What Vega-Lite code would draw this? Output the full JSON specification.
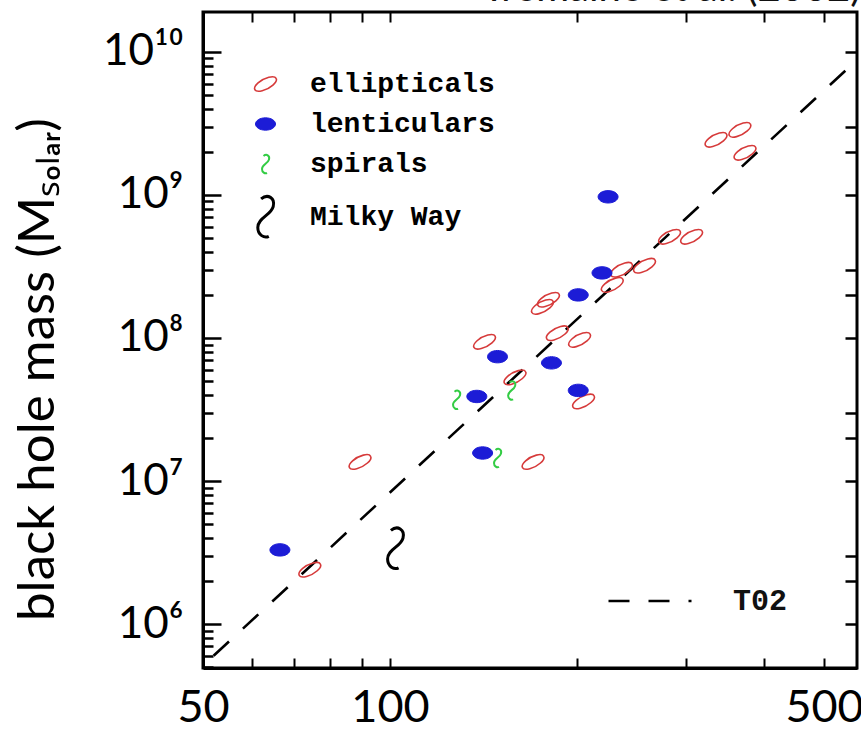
{
  "$schema": "https://vega.github.io/schema/vega-lite/v6.json",
  "width": 654,
  "height": 656,
  "autosize": "none",
  "padding": {"left": 203, "top": 12, "right": 4, "bottom": 65},
  "background": "white",
  "title": {"text": "Tremaine et al. (2002)", "anchor": "end", "frame": "group", "font": "Lato", "fontSize": 40, "fontWeight": "normal", "color": "#111111", "offset": 0, "dy": -2, "dx": 4},
  "config": {"view": {"stroke": "black", "strokeWidth": 3}, "axis": {"grid": false}},
  "layer": [
    {
      "data": {"values": [
        {"sigma": 52, "mass": 600000, "fit": "T02"},
        {"sigma": 560, "mass": 8470000000, "fit": "T02"}
      ]},
      "mark": {"type": "line", "color": "black", "strokeWidth": 2.6, "clip": true},
      "encoding": {
        "x": {"field": "sigma", "type": "quantitative",
          "scale": {"type": "log", "domain": [50, 565], "nice": false, "zero": false},
          "axis": {"orient": "bottom", "values": [50, 60, 70, 80, 90, 100, 200, 300, 400, 500],
            "labelExpr": "datum.value == 50 || datum.value == 100 || datum.value == 500 ? datum.value + '' : ''",
            "tickSize": -10, "tickWidth": 2, "tickColor": "black", "domainColor": "black", "domainWidth": 3,
            "labelFont": "Lato", "labelFontSize": 45, "labelColor": "black", "labelPadding": 27,
            "labelFlush": false, "labelOverlap": false, "labelBound": false, "title": null}},
        "y": {"field": "mass", "type": "quantitative",
          "scale": {"type": "log", "domain": [493000, 19000000000], "nice": false},
          "axis": {"orient": "left",
            "values": [500000, 600000, 700000, 800000, 900000, 1000000, 2000000, 3000000, 4000000, 5000000, 6000000, 7000000, 8000000, 9000000, 10000000, 20000000, 30000000, 40000000, 50000000, 60000000, 70000000, 80000000, 90000000, 100000000, 200000000, 300000000, 400000000, 500000000, 600000000, 700000000, 800000000, 900000000, 1000000000, 2000000000, 3000000000, 4000000000, 5000000000, 6000000000, 7000000000, 8000000000, 9000000000, 10000000000],
            "labelExpr": "datum.value == 1e6 ? '10⁶' : datum.value == 1e7 ? '10⁷' : datum.value == 1e8 ? '10⁸' : datum.value == 1e9 ? '10⁹' : datum.value == 1e10 ? '10¹⁰' : ''",
            "tickSize": {"condition": {"test": "indexof([1e6, 1e7, 1e8, 1e9, 1e10], datum.value) >= 0", "value": -18}, "value": -10},
            "tickWidth": 2.5, "tickColor": "black", "domainColor": "black", "domainWidth": 3,
            "labelFont": "Lato", "labelFontSize": 44, "labelColor": "black", "labelPadding": 38,
            "labelFlush": false, "labelOverlap": false, "labelBound": false,
            "title": "black hole mass (Mₛₒₗₐᵣ)", "titleFont": "Lato", "titleFontSize": 51, "titleFontWeight": "normal", "titleColor": "black",
            "titleX": -165, "titleY": 357, "titleAngle": -90, "titleAlign": "center", "titleBaseline": "middle", "titleLimit": 800}},
        "strokeDash": {"field": "fit", "type": "nominal", "scale": {"range": [[21, 19]]},
          "legend": {"orient": "none", "legendX": 404, "legendY": 546, "title": null, "symbolType": "stroke", "symbolSize": 6889,
            "symbolStrokeWidth": 2.6, "symbolStrokeColor": "black", "labelFont": "Liberation Mono", "labelFontSize": 30,
            "labelFontWeight": "bold", "labelColor": "#111111", "labelOffset": 40, "padding": 0}}
      }
    },
    {
      "data": {"values": [
        {"sigma": 335, "mass": 2430000000, "type": "ellipticals"},
        {"sigma": 366, "mass": 2850000000, "type": "ellipticals"},
        {"sigma": 373, "mass": 1970000000, "type": "ellipticals"},
        {"sigma": 282, "mass": 510000000, "type": "ellipticals"},
        {"sigma": 306, "mass": 510000000, "type": "ellipticals"},
        {"sigma": 257, "mass": 320000000, "type": "ellipticals"},
        {"sigma": 236, "mass": 300000000, "type": "ellipticals"},
        {"sigma": 228, "mass": 235000000, "type": "ellipticals"},
        {"sigma": 176, "mass": 165000000, "type": "ellipticals"},
        {"sigma": 180, "mass": 185000000, "type": "ellipticals"},
        {"sigma": 186, "mass": 108000000, "type": "ellipticals"},
        {"sigma": 202, "mass": 97000000, "type": "ellipticals"},
        {"sigma": 142, "mass": 94000000, "type": "ellipticals"},
        {"sigma": 159, "mass": 53000000, "type": "ellipticals"},
        {"sigma": 205, "mass": 36000000, "type": "ellipticals"},
        {"sigma": 170, "mass": 13600000, "type": "ellipticals"},
        {"sigma": 89.5, "mass": 13600000, "type": "ellipticals"},
        {"sigma": 74.3, "mass": 2400000, "type": "ellipticals"},
        {"sigma": 224.5, "mass": 970000000, "type": "lenticulars"},
        {"sigma": 219.5, "mass": 285000000, "type": "lenticulars"},
        {"sigma": 201, "mass": 200000000, "type": "lenticulars"},
        {"sigma": 149, "mass": 74000000, "type": "lenticulars"},
        {"sigma": 182, "mass": 67000000, "type": "lenticulars"},
        {"sigma": 138, "mass": 39000000, "type": "lenticulars"},
        {"sigma": 201, "mass": 43000000, "type": "lenticulars"},
        {"sigma": 141, "mass": 15700000, "type": "lenticulars"},
        {"sigma": 66.5, "mass": 3300000, "type": "lenticulars"},
        {"sigma": 128, "mass": 37000000, "type": "spirals"},
        {"sigma": 157, "mass": 43000000, "type": "spirals"},
        {"sigma": 149, "mass": 14500000, "type": "spirals"},
        {"sigma": 102, "mass": 3400000, "type": "Milky Way"}
      ]},
      "mark": {"type": "point", "opacity": 1},
      "encoding": {
        "x": {"field": "sigma", "type": "quantitative",
          "scale": {"type": "log", "domain": [50, 565], "nice": false, "zero": false},
          "axis": {"orient": "top", "values": [60, 70, 80, 90, 100, 200, 300, 400, 500], "labels": false, "domain": false,
            "tickSize": -10, "tickWidth": 2, "tickColor": "black", "title": null}},
        "y": {"field": "mass", "type": "quantitative",
          "scale": {"type": "log", "domain": [493000, 19000000000], "nice": false},
          "axis": {"orient": "right", "values": [1000000, 2000000, 3000000, 10000000, 20000000, 30000000, 100000000, 200000000, 300000000, 1000000000, 2000000000, 3000000000, 10000000000],
            "labels": false, "domain": false, "tickSize": -12, "tickWidth": 2.5, "tickColor": "black", "title": null}},
        "shape": {"field": "type", "type": "nominal",
          "scale": {"domain": ["ellipticals", "lenticulars", "spirals", "Milky Way"],
            "range": [
              "M -0.883 0.469 A 1 0.42 -28 1 1 0.883 -0.469 A 1 0.42 -28 1 1 -0.883 0.469 Z",
              "M -1 0 A 1 0.62 0 1 1 1 0 A 1 0.62 0 1 1 -1 0 Z",
              "M -0.2 -0.8 C 0.1 -1.05 0.45 -0.85 0.35 -0.45 C 0.25 -0.05 -0.35 0.05 -0.35 0.5 C -0.35 0.85 -0.05 1 0.15 0.9",
              "M -0.2 -0.8 C 0.1 -1.05 0.45 -0.85 0.35 -0.45 C 0.25 -0.05 -0.35 0.05 -0.35 0.5 C -0.35 0.85 -0.05 1 0.15 0.9"
            ]},
          "legend": {"orient": "none", "legendX": 39, "legendY": 58, "title": null, "labelFont": "Liberation Mono", "labelFontSize": 28,
            "labelFontWeight": "bold", "labelOffset": 21, "labelLimit": 400, "rowPadding": 12, "padding": 0, "symbolLimit": 0,
            "encode": {"labels": {"update": {"fill": {"signal": "datum.value === 'ellipticals' ? '#dd3c3c' : datum.value === 'lenticulars' ? '#2323c4' : datum.value === 'spirals' ? '#3dd94a' : '#111111'"}}}}}},
        "stroke": {"field": "type", "type": "nominal",
          "scale": {"domain": ["ellipticals", "lenticulars", "spirals", "Milky Way"], "range": ["#d63a3a", "#1c1cd6", "#33cc44", "#000000"]}},
        "fill": {"field": "type", "type": "nominal",
          "scale": {"domain": ["ellipticals", "lenticulars", "spirals", "Milky Way"], "range": ["transparent", "#1c1cd6", "transparent", "transparent"]}},
        "size": {"field": "type", "type": "nominal",
          "scale": {"type": "ordinal", "domain": ["ellipticals", "lenticulars", "spirals", "Milky Way"], "range": [576, 400, 400, 1936]}},
        "strokeWidth": {"field": "type", "type": "nominal",
          "scale": {"type": "ordinal", "domain": ["ellipticals", "lenticulars", "spirals", "Milky Way"], "range": [1.6, 1, 2, 3]}}
      }
    }
  ]
}
